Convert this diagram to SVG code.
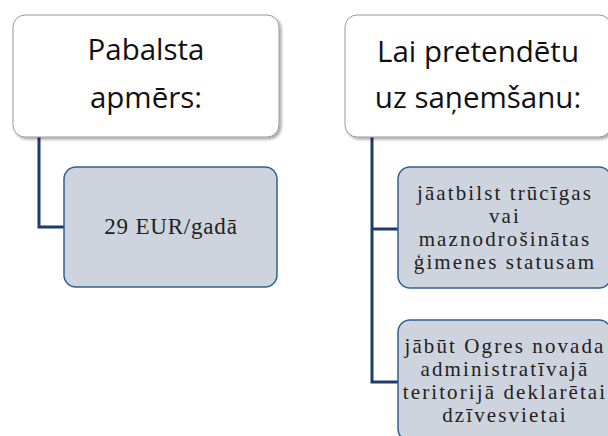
<svg xmlns="http://www.w3.org/2000/svg" width="608" height="436" viewBox="0 0 608 436">
<defs>
<filter id="sh" x="-10%" y="-10%" width="130%" height="130%">
<feGaussianBlur in="SourceAlpha" stdDeviation="1.5"/>
<feOffset dx="1.5" dy="2" result="b"/>
<feComponentTransfer><feFuncA type="linear" slope="0.35"/></feComponentTransfer>
<feMerge><feMergeNode/><feMergeNode in="SourceGraphic"/></feMerge>
</filter>
</defs>
<style>
.hdr{fill:#fff;stroke:#9a9a9a;stroke-width:1}
.ch{fill:#cdd4de;stroke:#2f5f93;stroke-width:1.5}
.ht{font-family:"Open Sans","Noto Sans",sans-serif;font-size:29.5px;fill:#111;text-anchor:middle}
.ct{font-family:"Liberation Serif","Times New Roman",serif;font-size:21px;fill:#222;text-anchor:middle;letter-spacing:2.1px}
.con{fill:none;stroke:#1f3b6b;stroke-width:3}
</style>
<rect width="608" height="436" fill="#fff"/>
<g id="connectors">
<path class="con" d="M39,137 V227 H64"/>
<path class="con" d="M372,137 V382 H398 M372,229 H398"/>
</g>
<g id="n1">
<rect class="hdr" x="13" y="15" width="266" height="122" rx="12" filter="url(#sh)"/>
<text class="ht" x="146" y="60">Pabalsta</text>
<text class="ht" x="146" y="108">apmērs:</text>
</g>
<g id="n2">
<rect class="ch" x="64" y="167" width="213" height="120" rx="12"/>
<text class="ct" x="171" y="234" style="font-size:23px;letter-spacing:0.8px">29 EUR/gadā</text>
</g>
<g id="n3">
<rect class="hdr" x="345" y="15" width="266" height="122" rx="12" filter="url(#sh)"/>
<text class="ht" x="478" y="62">Lai pretendētu</text>
<text class="ht" x="478" y="108">uz saņemšanu:</text>
</g>
<g id="n4">
<rect class="ch" x="398" y="167" width="213" height="121" rx="12"/>
<text class="ct" x="505" y="200">jāatbilst trūcīgas</text>
<text class="ct" x="505" y="223">vai</text>
<text class="ct" x="505" y="246">maznodrošinātas</text>
<text class="ct" x="505" y="269">ģimenes statusam</text>
</g>
<g id="n5">
<rect class="ch" x="398" y="320" width="213" height="121" rx="12"/>
<text class="ct" x="505" y="353">jābūt Ogres novada</text>
<text class="ct" x="505" y="376">administratīvajā</text>
<text class="ct" x="505" y="399">teritorijā deklarētai</text>
<text class="ct" x="505" y="422">dzīvesvietai</text>
</g>
</svg>
